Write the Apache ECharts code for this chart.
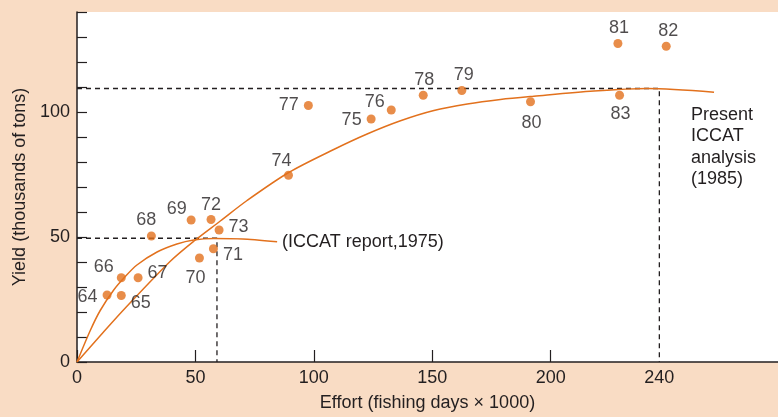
<!DOCTYPE html>
<html>
<head>
<meta charset="utf-8">
<script src="https://cdn.jsdelivr.net/npm/echarts@6/dist/echarts.min.js"></script>
<style>
  html, body { margin: 0; padding: 0; background: #f9dcc4; }
  #main { width: 778px; height: 417px; }
</style>
</head>
<body>
<div id="main"></div>
<script>
// catch years 1964-1983
var years = ['64', '65', '66', '67', '68', '69', '70', '71', '72', '73',
  '74', '75', '76', '77', '78', '79', '80', '81', '82', '83'];
var effort = [12.7, 18.7, 18.7, 25.8, 31.4, 48.2, 51.7, 57.6, 56.6, 60.0,
  89.3, 124.2, 132.7, 97.7, 146.2, 162.5, 191.5, 228.4, 248.8, 229.1];
var catchYield = [26.8, 26.6, 33.7, 33.7, 50.4, 56.8, 41.6, 45.3, 57.0, 52.8,
  74.7, 97.2, 100.8, 102.6, 106.7, 108.6, 104.1, 127.4, 126.3, 106.7];

// fitted curves
var curve1975 = [[0, 0], [5.6, 12.6], [9.8, 20.6], [15.5, 28.8], [19.7, 33.5],
  [25.3, 38.8], [33.8, 44.0], [42.2, 47.2], [49.3, 48.8], [57.7, 49.4],
  [70, 49.2], [84.5, 48.1]];
var curve1985 = [[0, 0], [11.2, 12.0], [20.4, 21.6], [39.4, 40.3], [49.3, 48.3],
  [60.5, 56.4], [71.8, 64.6], [89.4, 75.8], [108.4, 85.0], [122.5, 91.2],
  [136.6, 96.5], [150.7, 100.6], [164.8, 103.2], [178.8, 105.0], [192.9, 106.3],
  [218.3, 108.4], [240.8, 109.4], [269, 107.9]];

// MSY guide lines
var msy1975 = [[0, 49.5], [59.1, 49.5], [59.1, 0]];
var msy1985 = [[0, 109.4], [245.9, 109.4], [245.9, 0]];

var xTickValues = [0, 50, 100, 150, 200, 245.9];
var xTickText = ['0', '50', '100', '150', '200', '240'];
var yTickText = { 0: '0', 50: '50', 100: '100' };

// where each year label sits relative to its dot
var labelPlace = {
  '64': ['left', [0, 2]], '65': ['right', [0, 8]], '66': ['left', [2, -11]],
  '67': ['right', [0, -5]], '68': ['top', [-5, 3]], '69': ['left', [5, -11]],
  '70': ['bottom', [-4, 2]], '71': ['right', [0, 6]], '72': ['top', [0, 4]],
  '73': ['right', [0, -3]], '74': ['top', [-7, 4]], '75': ['left', [0, 1]],
  '76': ['left', [3, -8]], '77': ['left', [0, 0]], '78': ['top', [1, 3]],
  '79': ['top', [2, 3]], '80': ['bottom', [1, 3]], '81': ['top', [1, 3]],
  '82': ['top', [2, 3]], '83': ['bottom', [1, 0]]
};

var orange = '#e2711d';
var ink = '#231f20';
var font = "'Liberation Sans', Arial, sans-serif";
var fs = 18;

var points = years.map(function (y, i) {
  var p = labelPlace[y];
  return {
    value: [effort[i], catchYield[i], y],
    label: { position: p[0], offset: p[1] }
  };
});

var dashStyle = { color: ink, width: 1.3, type: [5, 4] };

var option = {
  animation: false,
  backgroundColor: '#f9dcc4',
  textStyle: { fontFamily: font },
  grid: {
    left: 77, right: 0, top: 12, bottom: 54,
    show: true, backgroundColor: '#ffffff', borderWidth: 0
  },
  xAxis: {
    type: 'value',
    min: 0,
    max: 296,
    name: 'Effort (fishing days \u00d7 1000)',
    nameLocation: 'middle',
    nameGap: 32,
    nameTextStyle: { fontSize: fs, color: ink, fontFamily: font },
    axisLine: { lineStyle: { color: ink, width: 1.5 } },
    axisTick: { inside: true, length: 12, lineStyle: { color: ink, width: 1.2 },
      customValues: [0, 50, 100, 150, 200] },
    axisLabel: {
      customValues: xTickValues,
      formatter: function (v) {
        var i = xTickValues.indexOf(v);
        return i >= 0 ? xTickText[i] : '';
      },
      fontSize: fs, color: ink, margin: 7, fontFamily: font
    },
    splitLine: { show: false }
  },
  yAxis: {
    type: 'value',
    min: 0,
    max: 140,
    interval: 10,
    name: 'Yield (thousands of tons)',
    nameLocation: 'middle',
    nameGap: 47,
    nameTextStyle: { fontSize: fs, color: ink, fontFamily: font },
    axisLine: { show: true, lineStyle: { color: ink, width: 1.5 } },
    axisTick: { inside: true, length: 10, lineStyle: { color: ink, width: 1.2 } },
    axisLabel: {
      formatter: function (v) { return yTickText[v] || ''; },
      fontSize: fs, color: ink, margin: 7, fontFamily: font
    },
    splitLine: { show: false }
  },
  series: [
    {
      type: 'line', data: msy1975, symbol: 'none', silent: true,
      lineStyle: dashStyle, z: 1
    },
    {
      type: 'line', data: msy1985, symbol: 'none', silent: true,
      lineStyle: dashStyle, z: 1
    },
    {
      type: 'line', data: curve1975, smooth: 0.3, symbol: 'none',
      lineStyle: { color: orange, width: 1.5 }, z: 2,
      endLabel: {
        show: true, formatter: '(ICCAT report,1975)', distance: 5,
        fontSize: fs, color: ink, fontFamily: font
      }
    },
    {
      type: 'line', data: curve1985, smooth: 0.3,
      symbol: 'none', lineStyle: { color: orange, width: 1.5 }, z: 2
    },
    {
      type: 'scatter', data: points, symbolSize: 9, z: 3,
      itemStyle: { color: orange },
      label: {
        show: true, fontSize: fs, color: ink, fontFamily: font,
        formatter: function (p) { return p.value[2]; }
      }
    }
  ],
  graphic: [{
    type: 'text', left: 691, top: 104,
    style: {
      text: 'Present\nICCAT\nanalysis\n(1985)',
      fontSize: fs, lineHeight: 21.5, fill: ink, fontFamily: font
    }
  }]
};

var myChart = echarts.init(document.getElementById('main'));
myChart.setOption(option);
</script>
</body>
</html>
